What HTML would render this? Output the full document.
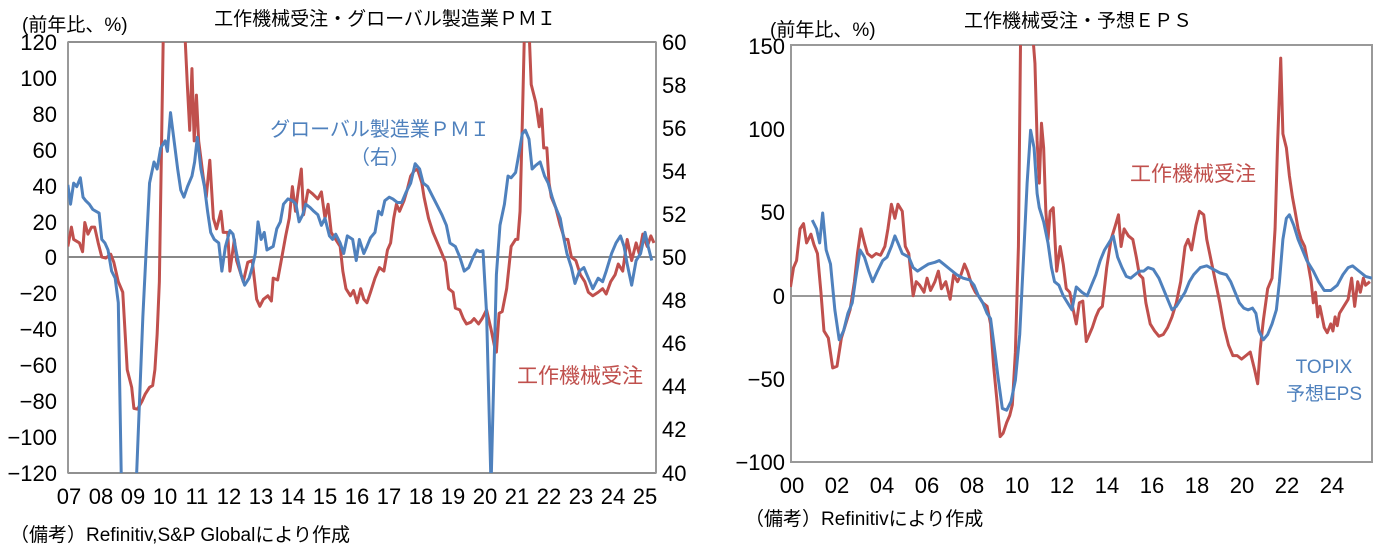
<!DOCTYPE html>
<html><head><meta charset="utf-8"><style>
html,body{margin:0;padding:0;background:#fff;}
svg text{font-family:"Liberation Sans","Noto Sans CJK JP",sans-serif;fill:#000;}
svg text.n, .n text{font-family:"Liberation Sans Narrow","Liberation Sans",sans-serif;font-size:22px;}
</style></head><body>
<svg width="1382" height="552" viewBox="0 0 1382 552" xmlns="http://www.w3.org/2000/svg">
<defs>
<clipPath id="cl"><rect x="68" y="42" width="588" height="431"/></clipPath>
<clipPath id="cr"><rect x="790" y="45" width="582" height="417"/></clipPath>
</defs>
<!-- LEFT CHART -->
<text x="385" y="25" font-size="19" text-anchor="middle">工作機械受注・グローバル製造業ＰＭＩ</text>
<text x="22" y="31" font-size="19">(前年比、%)</text>
<rect x="68" y="42" width="588" height="431" fill="none" stroke="#222" stroke-width="1"/>
<line x1="68" y1="42" x2="68" y2="473" stroke="#999" stroke-width="2"/>
<line x1="656" y1="42" x2="656" y2="473" stroke="#999" stroke-width="2"/>
<line x1="68" y1="257" x2="656" y2="257" stroke="#888" stroke-width="2"/>
<g class="n" text-anchor="end">
<text x="57" y="50">120</text><text x="57" y="86">100</text><text x="57" y="122">80</text><text x="57" y="158">60</text><text x="57" y="194">40</text><text x="57" y="230">20</text><text x="57" y="265">0</text><text x="57" y="301">−20</text><text x="57" y="337">−40</text><text x="57" y="373">−60</text><text x="57" y="409">−80</text><text x="57" y="445">−100</text><text x="57" y="481">−120</text>
</g>
<g class="n">
<text x="662" y="50">60</text><text x="662" y="93">58</text><text x="662" y="136">56</text><text x="662" y="179">54</text><text x="662" y="222">52</text><text x="662" y="265">50</text><text x="662" y="308">48</text><text x="662" y="351">46</text><text x="662" y="394">44</text><text x="662" y="437">42</text><text x="662" y="481">40</text>
</g>
<g class="n" text-anchor="middle">
<text x="69" y="504">07</text><text x="101" y="504">08</text><text x="133" y="504">09</text><text x="165" y="504">10</text><text x="197" y="504">11</text><text x="229" y="504">12</text><text x="261" y="504">13</text><text x="293" y="504">14</text><text x="325" y="504">15</text><text x="357" y="504">16</text><text x="389" y="504">17</text><text x="421" y="504">18</text><text x="453" y="504">19</text><text x="485" y="504">20</text><text x="517" y="504">21</text><text x="549" y="504">22</text><text x="581" y="504">23</text><text x="613" y="504">24</text><text x="645" y="504">25</text>
</g>
<g clip-path="url(#cl)">
<g transform="scale(0.4464,0.3521)" fill="none" stroke-linejoin="round">
<polyline vector-effect="non-scaling-stroke" stroke="#c0504d" stroke-width="3" points="152,700 160,645 165,680 178,690 185,715 190,632 197,665 205,645 212,645 220,690 228,730 237,733 248,722 255,745 265,800 275,830 285,1050 295,1100 300,1160 308,1162 318,1140 325,1120 335,1100 342,1095 347,1050 352,950 357,800 362,400 366,80 412,80 415,117 420,250 425,370 430,195 435,400 440,270 445,400 455,500 462,560 470,455 478,620 485,650 495,600 500,660 510,660 515,770 525,680 530,740 545,800 555,745 565,740 575,850 582,870 590,850 600,840 608,855 612,790 622,795 630,740 640,670 648,620 655,530 662,600 668,540 675,480 680,610 690,540 700,550 712,565 720,545 728,620 735,580 742,660 752,680 762,700 768,770 775,820 785,840 792,825 800,860 808,820 815,850 822,860 830,830 840,790 850,760 860,770 868,710 875,690 882,620 888,580 895,600 905,570 912,540 920,500 928,485 935,480 945,520 950,560 960,620 970,660 980,690 990,720 998,745 1005,820 1015,830 1020,875 1030,880 1038,905 1045,920 1055,915 1062,905 1072,920 1080,905 1090,880 1100,935 1108,985 1112,1000 1118,890 1125,885 1135,820 1145,700 1155,680 1160,680 1165,600 1170,350 1175,80 1185,80 1190,240 1200,290 1208,360 1213,310 1218,420 1225,420 1230,520 1235,560 1245,590 1255,640 1265,680 1272,680 1280,730 1290,740 1300,780 1310,800 1318,830 1328,840 1340,830 1350,820 1358,835 1368,800 1378,780 1385,750 1395,770 1405,680 1415,740 1425,690 1432,720 1440,665 1450,700 1458,670 1465,690"/>
<polyline vector-effect="non-scaling-stroke" stroke="#4f81bd" stroke-width="3" points="152,525 158,580 165,520 172,530 180,505 186,560 192,570 200,580 208,595 215,600 222,605 228,680 235,690 242,710 250,770 258,790 265,860 272,1380 305,1380 320,900 335,520 345,460 352,480 360,420 370,400 375,430 382,320 390,400 398,480 405,540 412,560 420,530 430,500 436,460 442,390 450,480 458,530 465,600 472,660 480,680 490,690 497,770 505,700 515,655 522,665 530,720 540,780 548,810 558,790 565,760 572,720 578,630 585,680 592,660 598,710 605,705 612,700 620,650 628,630 635,580 645,565 655,570 663,580 670,630 678,610 685,580 695,590 703,600 712,610 720,640 728,620 738,670 745,680 752,665 762,690 770,720 778,670 790,680 798,740 805,680 815,720 822,700 830,675 840,660 848,600 855,610 862,570 872,560 880,565 890,575 900,575 910,545 920,520 930,465 940,480 948,520 958,530 968,555 980,585 990,610 1000,640 1008,690 1020,700 1030,730 1040,770 1050,760 1060,730 1068,710 1075,715 1082,712 1090,890 1100,1380 1112,780 1120,640 1130,580 1138,500 1145,505 1155,490 1162,440 1170,380 1177,370 1185,395 1192,480 1200,470 1210,460 1220,500 1228,520 1237,560 1245,590 1255,620 1262,670 1270,720 1280,760 1288,805 1298,770 1308,760 1318,790 1328,820 1340,790 1350,800 1358,770 1370,720 1380,690 1390,670 1398,700 1405,750 1415,810 1425,740 1435,720 1445,660 1452,700 1460,740"/>
</g>
</g>
<text x="380" y="136" font-size="20" style="fill:#4f81bd" text-anchor="middle">グローバル製造業ＰＭＩ</text>
<text x="380" y="164" font-size="20" style="fill:#4f81bd" text-anchor="middle">（右）</text>
<text x="580" y="383" font-size="21" style="fill:#c0504d" text-anchor="middle">工作機械受注</text>
<text x="10" y="541" font-size="19">（備考）Refinitiv,S&amp;P Globalにより作成</text>

<!-- RIGHT CHART -->
<text x="1078" y="27" font-size="19" text-anchor="middle">工作機械受注・予想ＥＰＳ</text>
<text x="770" y="36" font-size="19">(前年比、%)</text>
<rect x="791" y="45" width="581" height="417" fill="none" stroke="#999" stroke-width="2"/>
<line x1="791" y1="296" x2="1372" y2="296" stroke="#999" stroke-width="2"/>
<g class="n" text-anchor="end">
<text x="785" y="54">150</text><text x="785" y="137">100</text><text x="785" y="220">50</text><text x="785" y="304">0</text><text x="785" y="387">−50</text><text x="785" y="470">−100</text>
</g>
<g class="n" text-anchor="middle">
<text x="792" y="493">00</text><text x="837" y="493">02</text><text x="882" y="493">04</text><text x="927" y="493">06</text><text x="972" y="493">08</text><text x="1017" y="493">10</text><text x="1062" y="493">12</text><text x="1107" y="493">14</text><text x="1152" y="493">16</text><text x="1197" y="493">18</text><text x="1242" y="493">20</text><text x="1287" y="493">22</text><text x="1332" y="493">24</text>
</g>
<g clip-path="url(#cr)">
<g transform="translate(700,0) scale(0.435,0.3521)" fill="none" stroke-linejoin="round">
<polyline vector-effect="non-scaling-stroke" stroke="#c0504d" stroke-width="3" points="208,815 215,760 222,740 230,650 238,635 245,690 255,665 262,695 270,720 278,830 285,940 295,960 305,1045 315,1040 325,960 335,920 345,880 355,800 362,720 370,650 378,690 385,720 395,730 405,720 415,725 425,700 432,650 440,580 448,620 455,580 465,600 472,700 480,720 490,840 497,800 505,810 515,830 522,790 530,825 540,800 548,770 555,820 565,800 575,850 583,780 592,800 600,780 608,750 615,770 625,810 633,830 640,840 650,860 660,870 668,920 675,1040 682,1130 690,1240 697,1230 705,1200 712,1180 718,1150 725,1000 732,700 737,100 765,100 770,180 775,400 780,520 785,350 790,420 795,600 800,680 805,600 812,590 820,770 828,700 835,750 842,820 850,830 858,880 865,920 872,860 880,855 888,970 895,950 902,930 910,900 917,880 925,870 935,760 945,680 955,640 962,610 968,700 975,650 985,670 995,680 1003,730 1010,780 1018,790 1025,860 1035,920 1045,940 1055,955 1065,950 1075,930 1085,900 1095,860 1105,800 1115,700 1122,680 1130,710 1140,640 1148,600 1158,610 1165,680 1175,740 1185,800 1195,860 1205,930 1215,980 1225,1010 1235,1010 1245,1020 1255,1010 1265,1000 1275,1050 1282,1090 1288,990 1295,910 1305,820 1315,790 1322,650 1328,400 1335,165 1340,380 1348,420 1355,500 1362,560 1368,600 1375,650 1382,680 1390,700 1398,750 1405,800 1410,860 1415,830 1420,900 1425,870 1435,930 1442,945 1450,920 1455,940 1460,900 1465,925 1470,890 1480,870 1490,850 1498,790 1505,870 1512,800 1518,830 1525,790 1530,810 1540,800"/>
<polyline vector-effect="non-scaling-stroke" stroke="#4f81bd" stroke-width="3" points="258,625 268,650 275,690 282,605 290,710 300,750 310,880 320,965 330,940 340,890 350,860 358,790 368,710 378,730 388,770 397,800 408,770 420,740 430,730 440,700 448,670 455,690 465,720 480,730 490,760 500,770 512,760 525,750 540,745 550,740 560,750 575,765 590,780 605,790 620,795 630,810 640,840 650,860 660,890 668,905 678,1000 685,1070 695,1160 705,1165 715,1140 725,1080 735,950 745,700 752,520 760,370 768,420 775,550 780,590 790,630 800,690 808,760 815,800 825,810 835,840 845,860 855,880 865,815 878,830 890,840 900,810 910,780 920,740 930,710 940,690 950,670 960,730 970,760 980,785 990,790 1000,780 1010,770 1020,770 1030,760 1042,765 1055,790 1065,820 1075,850 1085,880 1095,870 1105,850 1115,830 1125,800 1135,780 1150,760 1165,755 1180,765 1195,775 1210,780 1220,800 1230,830 1240,860 1250,875 1260,880 1270,875 1278,890 1285,940 1295,965 1305,950 1315,920 1325,880 1332,800 1340,680 1348,620 1355,610 1365,640 1375,680 1385,710 1395,740 1410,770 1422,800 1435,825 1450,825 1465,810 1478,780 1490,760 1500,755 1510,765 1520,775 1530,785 1545,790"/>
</g>
</g>
<text x="1193" y="181" font-size="21" style="fill:#c0504d" text-anchor="middle">工作機械受注</text>
<text x="1324" y="373" font-size="19" style="fill:#4f81bd" text-anchor="middle">TOPIX</text>
<text x="1324" y="400" font-size="19" style="fill:#4f81bd" text-anchor="middle">予想EPS</text>
<text x="745" y="525" font-size="19">（備考）Refinitivにより作成</text>
</svg>
</body></html>
